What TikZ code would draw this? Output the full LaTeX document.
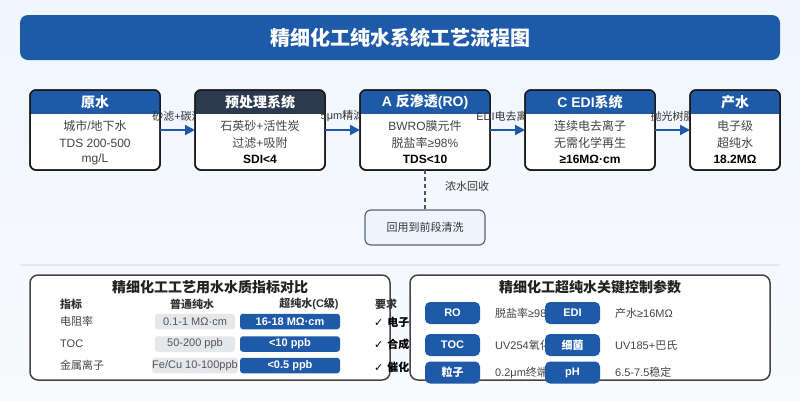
\documentclass[tikz,border=0pt]{standalone}
\usepackage{fontspec}
\setmainfont{Liberation Sans}
\newfontfamily\cjkf{Noto Sans CJK SC}
\newfontfamily\djv{DejaVu Sans}
\usetikzlibrary{arrows.meta}

% automatic font switch between Latin and CJK characters
\newXeTeXintercharclass\cjkclass
\newXeTeXintercharclass\symclass
\count255="4E00
\loop\XeTeXcharclass\count255=\cjkclass\relax\advance\count255 by 1\relax\ifnum\count255<"A000\repeat
\count255="3000
\loop\XeTeXcharclass\count255=\cjkclass\relax\advance\count255 by 1\relax\ifnum\count255<"3040\repeat
\count255="FF00
\loop\XeTeXcharclass\count255=\cjkclass\relax\advance\count255 by 1\relax\ifnum\count255<"FFF0\repeat
\XeTeXcharclass"2713=\symclass
\XeTeXinterchartoks 0 \cjkclass={\cjkf}
\XeTeXinterchartoks 4095 \cjkclass={\cjkf}
\XeTeXinterchartoks \symclass \cjkclass={\cjkf}
\XeTeXinterchartoks \cjkclass 0={\rmfamily}
\XeTeXinterchartoks 4095 0={\rmfamily}
\XeTeXinterchartoks \symclass 0={\rmfamily}
\XeTeXinterchartoks 0 \symclass={\djv}
\XeTeXinterchartoks 4095 \symclass={\djv}
\XeTeXinterchartoks \cjkclass \symclass={\djv}
\XeTeXinterchartokenstate=1

\definecolor{mainblue}{HTML}{1F5AA8}
\definecolor{darkhead}{HTML}{2B3A4F}
\definecolor{stageline}{HTML}{1A1A1A}
\definecolor{bodygray}{HTML}{444444}
\definecolor{lblgray}{HTML}{333333}
\definecolor{bgtop}{HTML}{F0F6FE}
\definecolor{bgbot}{HTML}{F8FAFC}
\definecolor{recfill}{HTML}{EEF4FC}
\definecolor{recline}{HTML}{5A6578}
\definecolor{dashc}{HTML}{4A5568}
\definecolor{sepc}{HTML}{E2E8F0}
\definecolor{panelline}{HTML}{444444}
\definecolor{pillgray}{HTML}{E5E7EB}
\definecolor{pilltext}{HTML}{555555}
\definecolor{titletext}{HTML}{222222}

\tikzset{
  stage/.style={draw=stageline, line width=1.5pt, fill=white, rounded corners=6pt,
    minimum height=80pt, inner sep=0pt, outer sep=0pt},
  headtxt/.style={text=white, font=\fontsize{14}{16}\selectfont\bfseries, inner sep=0pt},
  bodytxt/.style={text=bodygray, font=\fontsize{12}{14}\selectfont, inner sep=0pt},
  bodybold/.style={text=black, font=\fontsize{12}{14}\selectfont\bfseries, inner sep=0pt},
  flowarr/.style={draw=mainblue, line width=2pt, -{Triangle[length=10pt,width=10pt]}},
  arrlbl/.style={text=lblgray, font=\fontsize{11}{13}\selectfont, inner sep=0pt},
  recbox/.style={draw=recline, line width=1.2pt, fill=recfill, rounded corners=6pt,
    minimum width=120pt, minimum height=35pt, text=lblgray, font=\fontsize{11}{13}\selectfont, outer sep=0pt},
  recline/.style={draw=dashc, line width=1.5pt, dash pattern=on 4pt off 3pt},
  panel/.style={draw=panelline, line width=1.5pt, fill=white, rounded corners=8pt,
    minimum width=360pt, minimum height=105pt, inner sep=0pt},
  paneltitle/.style={text=titletext, font=\fontsize{14}{16}\selectfont\bfseries, inner sep=0pt},
  colhead/.style={text=lblgray, font=\fontsize{11}{13}\selectfont\bfseries, inner sep=0pt},
  rowlbl/.style={text=bodygray, font=\fontsize{11}{13}\selectfont, inner sep=0pt, anchor=west},
  graypill/.style={fill=pillgray, rounded corners=3pt, minimum width=80pt, minimum height=15.5pt,
    inner sep=0pt, text=pilltext, font=\fontsize{11}{13}\selectfont},
  bluepill/.style={fill=mainblue, rounded corners=3pt, minimum width=100pt, minimum height=15.5pt,
    inner sep=0pt, text=white, font=\fontsize{11}{13}\selectfont\bfseries},
  checktxt/.style={text=black, font=\fontsize{11}{13}\selectfont\bfseries, inner sep=0pt, anchor=west},
  keypill/.style={fill=mainblue, rounded corners=5pt, minimum width=55pt, minimum height=22pt,
    inner sep=0pt, text=white, font=\fontsize{11}{13}\selectfont\bfseries},
  keytxt/.style={text=bodygray, font=\fontsize{11}{13}\selectfont, inner sep=0pt, anchor=west},
}

\newcommand{\flowstage}[9]{%
  \node[stage, minimum width=#3pt] (#1) at (#2,130) {};
  \begin{scope}
    \clip[rounded corners=6pt] (#1.north west) rectangle (#1.south east);
    \fill[#4] (#1.north west) rectangle ([yshift=-24pt]#1.north east);
  \end{scope}
  \draw[stageline, line width=1.5pt, rounded corners=6pt] (#1.north west) rectangle (#1.south east);
  \node[headtxt] (#1-t) at (#2,102) {#5};
  \node[bodytxt] (#1-a) at (#2,126) {#6};
  \node[bodytxt] (#1-b) at (#2,143) {#7};
  \node[#8] (#1-c) at (#2,159) {#9};
}

\begin{document}
\begin{tikzpicture}[x=1pt,y=-1pt]
\useasboundingbox (0,0) rectangle (800,400);
\shade[top color=bgtop, bottom color=bgbot] (0,0) rectangle (800,400);

% title bar
\node[fill=mainblue, rounded corners=8pt, minimum width=760pt, minimum height=45pt,
  text=white, font=\fontsize{20}{24}\selectfont\bfseries] (title) at (400,37.5) {精细化工纯水系统工艺流程图};

% flow stages with labels
\flowstage{b1}{95}{130}{mainblue}{原水}{城市/地下水}{TDS 200-500}{bodytxt}{mg/L}
\node[arrlbl] (l1) at (177.5,116) {砂滤+碳滤};
\flowstage{b2}{260}{130}{darkhead}{预处理系统}{石英砂+活性炭}{过滤+吸附}{bodybold}{SDI<4}
\node[arrlbl] (l2) at (342.5,116) {5μm精滤};
\flowstage{b3}{425}{130}{mainblue}{A 反渗透(RO)}{BWRO膜元件}{脱盐率≥98\%}{bodybold}{TDS<10}
\node[arrlbl] (l3) at (507.5,116) {EDI电去离子};
\flowstage{b4}{590}{130}{mainblue}{C EDI系统}{连续电去离子}{无需化学再生}{bodybold}{≥16MΩ·cm}
\node[arrlbl] (l4) at (672.5,116) {抛光树脂};
\flowstage{b5}{735}{90}{mainblue}{产水}{电子级}{超纯水}{bodybold}{18.2MΩ}

\draw[flowarr] (b1) -- (b2);
\draw[flowarr] (b2) -- (b3);
\draw[flowarr] (b3) -- (b4);
\draw[flowarr] (b4) -- (b5);

% concentrate recycle
\node[recbox] (rec) at (425,227.5) {回用到前段清洗};
\draw[recline] (b3.south) -- (rec.north);
\node[arrlbl, anchor=west] (recl) at (445,186) {浓水回收};

% separator
\draw[sepc, line width=2pt] (20,265) -- (780,265);

% left panel
\node[panel] (p1) at (210,327.5) {};
\node[paneltitle] (p1t) at (210,287) {精细化工工艺用水水质指标对比};
\node[colhead, anchor=west] (h1) at (60,304) {指标};
\node[colhead] (h2) at (192,304) {普通纯水};
\node[colhead] (h3) at (309,304) {超纯水(C级)};
\node[colhead, anchor=west] (h4) at (375,304) {要求};

\node[rowlbl] (r1) at (60,321.5) {电阻率};
\node[graypill] (g1) at (195,321.5) {0.1-1 MΩ·cm};
\node[bluepill] (u1) at (290,321.5) {16-18 MΩ·cm};
\node[checktxt] (c1) at (374,322) {✓ 电子级清洗};

\node[rowlbl] (r2) at (60,344) {TOC};
\node[graypill] (g2) at (195,344) {50-200 ppb};
\node[bluepill] (u2) at (290,344) {<10 ppb};
\node[checktxt] (c2) at (374,344) {✓ 合成反应};

\node[rowlbl] (r3) at (60,365.5) {金属离子};
\node[graypill] (g3) at (195,365.5) {Fe/Cu 10-100ppb};
\node[bluepill] (u3) at (290,365.5) {<0.5 ppb};
\node[checktxt] (c3) at (374,367) {✓ 催化反应};

% right panel
\node[panel] (p2) at (590,327.5) {};
\node[paneltitle] (p2t) at (590,287) {精细化工超纯水关键控制参数};

\node[keypill] (k1) at (452.5,313) {RO};
\node[keytxt] (d1) at (495,313) {脱盐率≥98\%};
\node[keypill] (k2) at (572.5,313) {EDI};
\node[keytxt] (d2) at (615,313) {产水≥16MΩ};

\node[keypill] (k3) at (452.5,345) {TOC};
\node[keytxt] (d3) at (495,345) {UV254氧化};
\node[keypill] (k4) at (572.5,345) {细菌};
\node[keytxt] (d4) at (615,345) {UV185+巴氏};

\node[keypill] (k5) at (452.5,372.5) {粒子};
\node[keytxt] (d5) at (495,372.5) {0.2μm终端过滤};
\node[keypill] (k6) at (572.5,372.5) {pH};
\node[keytxt] (d6) at (615,372.5) {6.5-7.5稳定};
\end{tikzpicture}
\end{document}
